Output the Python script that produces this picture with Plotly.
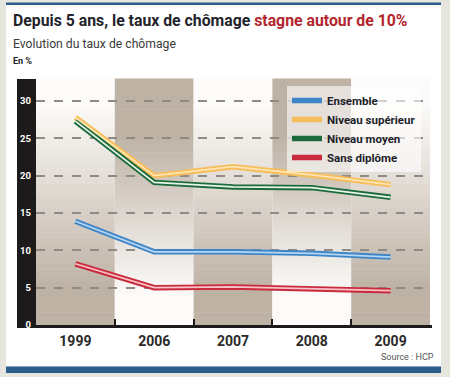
import plotly.graph_objects as go

years = ["1999", "2006", "2007", "2008", "2009"]
ensemble = [13.9, 9.8, 9.8, 9.6, 9.1]
superieur = [27.8, 20.0, 21.2, 20.1, 18.8]
moyen = [27.3, 19.1, 18.5, 18.4, 17.1]
sans_diplome = [8.2, 5.0, 5.1, 4.9, 4.6]

series = [
    ("Ensemble", ensemble, "#3f86c8", "#b4d6f2"),
    ("Niveau supérieur", superieur, "#f7bd5a", "#fde6b4"),
    ("Niveau moyen", moyen, "#1d6b3a", "#e8f4ea"),
    ("Sans diplôme", sans_diplome, "#c92a3c", "#f7c2c8"),
]

W, H = 450, 377
L, R, T, B = 36, 20, 79, 52
PW, PH = W - L - R, H - T - B

def px(x):
    return (x - L) / PW

def py(y):
    return (H - B - y) / PH

xs = list(range(len(years)))
fig = go.Figure()

for name, vals, col, inner in series:
    fig.add_trace(go.Scatter(x=xs, y=vals, mode="lines", name=name,
                             line=dict(color=col, width=5.5), legendgroup=name))
for name, vals, col, inner in series:
    fig.add_trace(go.Scatter(x=xs, y=vals, mode="lines", name=name, showlegend=False,
                             line=dict(color=inner, width=1.7), legendgroup=name,
                             hoverinfo="skip"))

shapes = []
# white panel
shapes.append(dict(type="rect", xref="paper", yref="paper", x0=px(6), x1=px(441),
                   y0=py(366), y1=py(5), fillcolor="white", line_width=0, layer="below"))
# top blue line and bottom blue bar
shapes.append(dict(type="rect", xref="paper", yref="paper", x0=px(6), x1=px(441),
                   y0=py(5), y1=py(2.5), fillcolor="#2c5c8c", line_width=0, layer="below"))
shapes.append(dict(type="rect", xref="paper", yref="paper", x0=px(6), x1=px(441),
                   y0=py(373), y1=py(366.5), fillcolor="#2c5c8c", line_width=0, layer="below"))
# black y band
shapes.append(dict(type="rect", xref="paper", yref="paper", x0=px(17), x1=0,
                   y0=py(328), y1=1, fillcolor="#1c1a1a", line_width=0, layer="below"))
# bottom axis bar
shapes.append(dict(type="rect", xref="paper", yref="paper", x0=px(17), x1=px(432),
                   y0=py(328), y1=py(325), fillcolor="#1c1a1a", line_width=0, layer="below"))
# gradient columns
brown = (190, 178, 165)
white = (252, 251, 249)
N = 40
for i in range(len(years)):
    for k in range(N):
        t = (k + 0.5) / N  # 0 bottom -> 1 top
        if i % 2 == 0:
            f = 1 - min(1.0, max(0.0, (t - 0.15) / 0.75))  # brown bottom -> white top
        else:
            f = min(1.0, max(0.0, (t - 0.12) / 0.65))  # white bottom -> brown top
        c = tuple(int(round(white[j] + (brown[j] - white[j]) * f)) for j in range(3))
        shapes.append(dict(type="rect", xref="x", yref="paper", x0=i - 0.5, x1=i + 0.5,
                           y0=k / N, y1=(k + 1) / N + 0.002,
                           fillcolor="rgb(%d,%d,%d)" % c, line_width=0, layer="below"))

fnt = "Roboto, Liberation Sans, sans-serif"
annotations = [
    dict(xref="paper", yref="paper", x=px(11), y=py(20), xanchor="left", yanchor="middle",
         text="<b>Depuis 5 ans, le taux de chômage <span style='color:#b3262e'>stagne autour de 10%</span></b>",
         showarrow=False, font=dict(family=fnt, size=15.8, color="#23232b")),
    dict(xref="paper", yref="paper", x=px(11), y=py(44), xanchor="left", yanchor="middle",
         text="Evolution du taux de chômage", showarrow=False,
         font=dict(family=fnt, size=12.2, color="#3c3c3c")),
    dict(xref="paper", yref="paper", x=px(11), y=py(61), xanchor="left", yanchor="middle",
         text="<b>En %</b>", showarrow=False, font=dict(family=fnt, size=9, color="#222")),
    dict(xref="paper", yref="paper", x=px(436), y=py(357), xanchor="right", yanchor="middle",
         text="Source : HCP", showarrow=False, font=dict(family=fnt, size=9, color="#555")),
]

fig.update_layout(
    width=W, height=H,
    margin=dict(l=L, r=R, t=T, b=B, pad=0),
    paper_bgcolor="#e6e6de", plot_bgcolor="rgba(0,0,0,0)",
    shapes=shapes, annotations=annotations,
    showlegend=True,
    legend=dict(x=px(287), y=py(86), xanchor="left", yanchor="top",
                bgcolor="rgba(255,255,255,0.6)", borderwidth=0,
                font=dict(family=fnt, size=11.5, color="#1e1e2a", weight="bold"),
                tracegroupgap=0, itemwidth=30),
    xaxis=dict(range=[-0.5, 4.5], tickvals=xs, ticktext=["<b>%s</b>" % y for y in years],
               showgrid=False, zeroline=False, showline=False, ticks="", automargin=False,
               tickfont=dict(family=fnt, size=14, color="#2a2a2a"),
               ticklabelstandoff=6,
               minor=dict(tickvals=[0.5, 1.5, 2.5, 3.5], ticks="inside", ticklen=6,
                          tickwidth=2, tickcolor="#1c1a1a"),
               fixedrange=True),
    yaxis=dict(range=[0, 32.95], tickvals=[0, 5, 10, 15, 20, 25, 30],
               ticktext=["<b>%d</b>" % v for v in [0, 5, 10, 15, 20, 25, 30]],
               showgrid=True, gridcolor="#8f8a85", gridwidth=1.5, griddash="dash",
               zeroline=False, showline=False, ticks="", automargin=False,
               tickfont=dict(family=fnt, size=9.5, color="white"),
               ticklabelstandoff=4, fixedrange=True),
)

fig.write_html("out.html", config={"displayModeBar": False},
               post_script="document.body.style.margin='0';document.body.style.background='#e6e6de';")
